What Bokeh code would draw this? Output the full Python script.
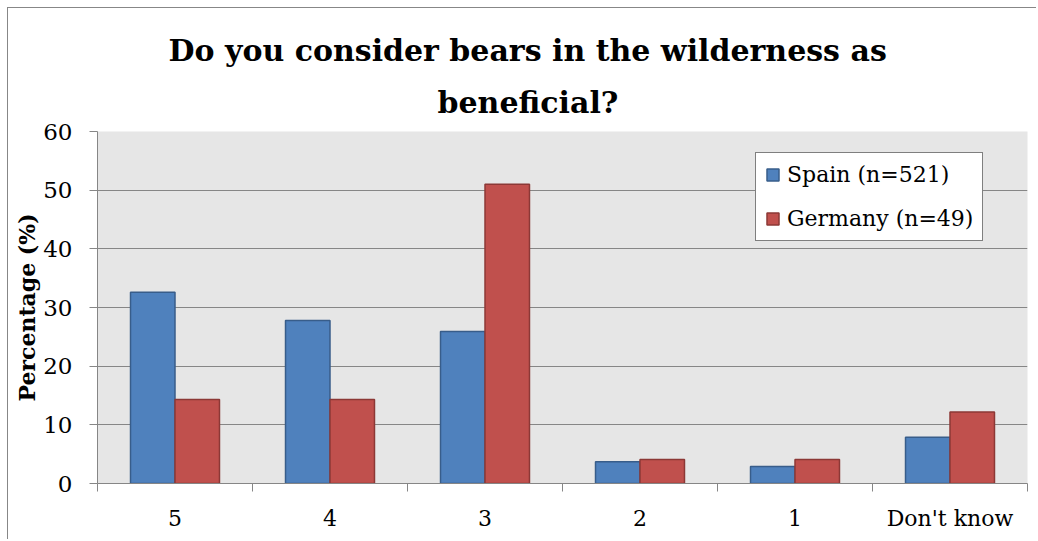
from bokeh.plotting import figure
from bokeh.models import FixedTicker, Range1d, Title, Legend, LegendItem, ColumnDataSource
from bokeh.embed import file_html
from bokeh.resources import INLINE
import numpy as np

categories = ["5", "4", "3", "2", "1", "Don't know"]
spain = [32.6, 27.8, 25.9, 3.7, 2.9, 7.9]
germany = [14.3, 14.3, 51.0, 4.1, 4.1, 12.2]
series_names = ["Spain (n=521)", "Germany (n=49)"]
y_ticks = [0, 10, 20, 30, 40, 50, 60]

FONT = "DejaVu Serif"
GRAY = "#868686"

n = len(categories)
centers = np.arange(n) + 0.5
bw = 0.287

p = figure(width=1029, height=532, output_backend="svg", toolbar_location=None,
           x_range=Range1d(0, n), y_range=Range1d(0, 60),
           min_border_left=89, min_border_right=10, min_border_top=123, min_border_bottom=57)
p.styles = {"border-left": "1px solid #878787", "border-top": "1px solid #878787",
            "margin": "7px 0 0 7px"}
p.background_fill_color = "#E6E6E6"
p.border_fill_color = "white"
p.outline_line_color = None

src = ColumnDataSource(dict(xs=centers - bw / 2, xg=centers + bw / 2, spain=spain, germany=germany))
r1 = p.vbar(x="xs", top="spain", width=bw, source=src, fill_color="#4F81BD",
            line_color="#385D8A", line_width=1.5)
r2 = p.vbar(x="xg", top="germany", width=bw, source=src, fill_color="#C0504D",
            line_color="#8C3836", line_width=1.5)

# x axis
xa = p.xaxis[0]
xa.ticker = FixedTicker(ticks=list(centers), minor_ticks=list(range(n + 1)))
xa.major_label_overrides = {float(c): lab for c, lab in zip(centers, categories)}
xa.major_tick_out = 0
xa.major_tick_in = 0
xa.minor_tick_out = 8
xa.minor_tick_in = 0
xa.minor_tick_line_color = GRAY
xa.axis_line_color = GRAY
xa.major_label_text_font = FONT
xa.major_label_text_font_size = "22px"
xa.major_label_text_color = "black"
xa.major_label_standoff = 14

# y axis
ya = p.yaxis[0]
ya.ticker = FixedTicker(ticks=y_ticks, minor_ticks=[])
ya.major_tick_out = 8
ya.major_tick_in = 0
ya.major_tick_line_color = GRAY
ya.axis_line_color = GRAY
ya.major_label_text_font = FONT
ya.major_label_text_font_size = "23px"
ya.major_label_text_color = "black"
ya.major_label_standoff = 17
ya.axis_label = "Percentage (%)"
ya.axis_label_text_font = FONT
ya.axis_label_text_font_style = "bold"
ya.axis_label_text_font_size = "22px"
ya.axis_label_text_color = "black"
ya.axis_label_standoff = 0

p.xgrid.grid_line_color = None
p.ygrid.grid_line_color = GRAY
p.ygrid.grid_line_width = 1

# titles
t2 = Title(text="beneficial?", align="left", offset=340, text_font=FONT,
           text_font_size="30px", text_font_style="bold", text_color="black", standoff=23)
t1 = Title(text="Do you consider bears in the wilderness as", align="left", offset=71,
           text_font=FONT, text_font_size="30px", text_font_style="bold", text_color="black", standoff=8)
p.add_layout(t2, "above")
p.add_layout(t1, "above")

legend = Legend(items=[LegendItem(label=series_names[0], renderers=[r1]),
                       LegendItem(label=series_names[1], renderers=[r2])],
                location=(658, 242), border_line_color="black", border_line_width=1,
                background_fill_color="white", background_fill_alpha=1,
                label_text_font=FONT, label_text_font_size="22px", label_text_color="black",
                glyph_width=15, glyph_height=15, label_standoff=7, padding=9, spacing=19,
                margin=0)
p.add_layout(legend, "center")

open("out.html", "w").write(file_html(p, INLINE))
